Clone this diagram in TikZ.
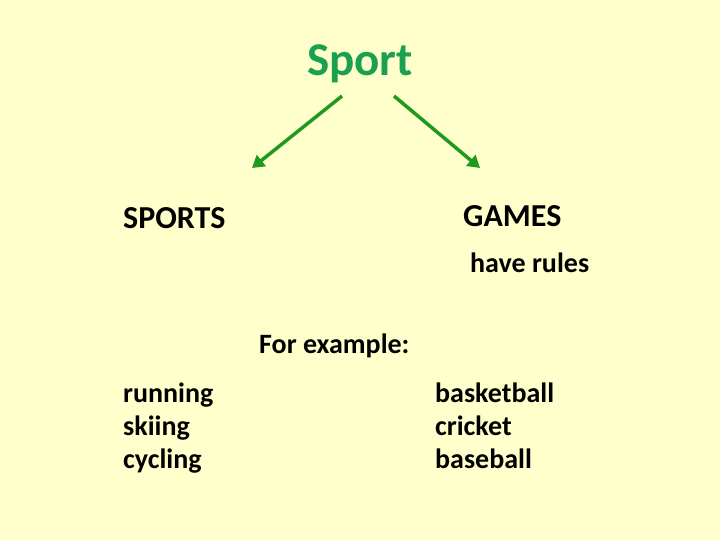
\documentclass[tikz,border=0pt]{standalone}
\usepackage{fontspec}
\setmainfont{Carlito}
\usepackage{tikz}
\usetikzlibrary{arrows.meta}
\definecolor{bg}{HTML}{FFFFCC}
\definecolor{tgreen}{HTML}{1AA14F}
\definecolor{agreen}{HTML}{1E9A1E}

\begin{document}
\begin{tikzpicture}[x=1pt,y=-1pt,
  t/.style={anchor=base west,inner sep=0,font=\fontsize{28}{33}\selectfont\bfseries},
  h/.style={t,font=\fontsize{32}{38}\selectfont\bfseries},
  a/.style={agreen,line width=3.5pt,-{Triangle[length=12pt,width=14pt]}}]
\fill[bg] (0,0) rectangle (720,540);
\useasboundingbox (0,0) rectangle (720,540);
\node[t,font=\fontsize{47}{52}\selectfont\bfseries,text=tgreen] (sport) at (307,76) {Sport};
\coordinate (l0) at (342,96);
\coordinate (l1) at (252,168);
\coordinate (r0) at (394,96);
\coordinate (r1) at (480,168);
\draw[a] (l0)--(l1);
\draw[a] (r0)--(r1);
\node[h] (sports) at (123,229) {SPORTS};
\node[h] (games) at (463,226) {GAMES};
\node[t] (rules) at (470,272) {have rules};
\node[t] (ex) at (259,353) {For example:};
\foreach \i/\w in {0/running,1/skiing,2/cycling}
  \node[t] (s\i) at (123,402+33*\i) {\w};
\foreach \i/\w in {0/basketball,1/cricket,2/baseball}
  \node[t] (g\i) at (435,402+33*\i) {\w};
\end{tikzpicture}
\end{document}
